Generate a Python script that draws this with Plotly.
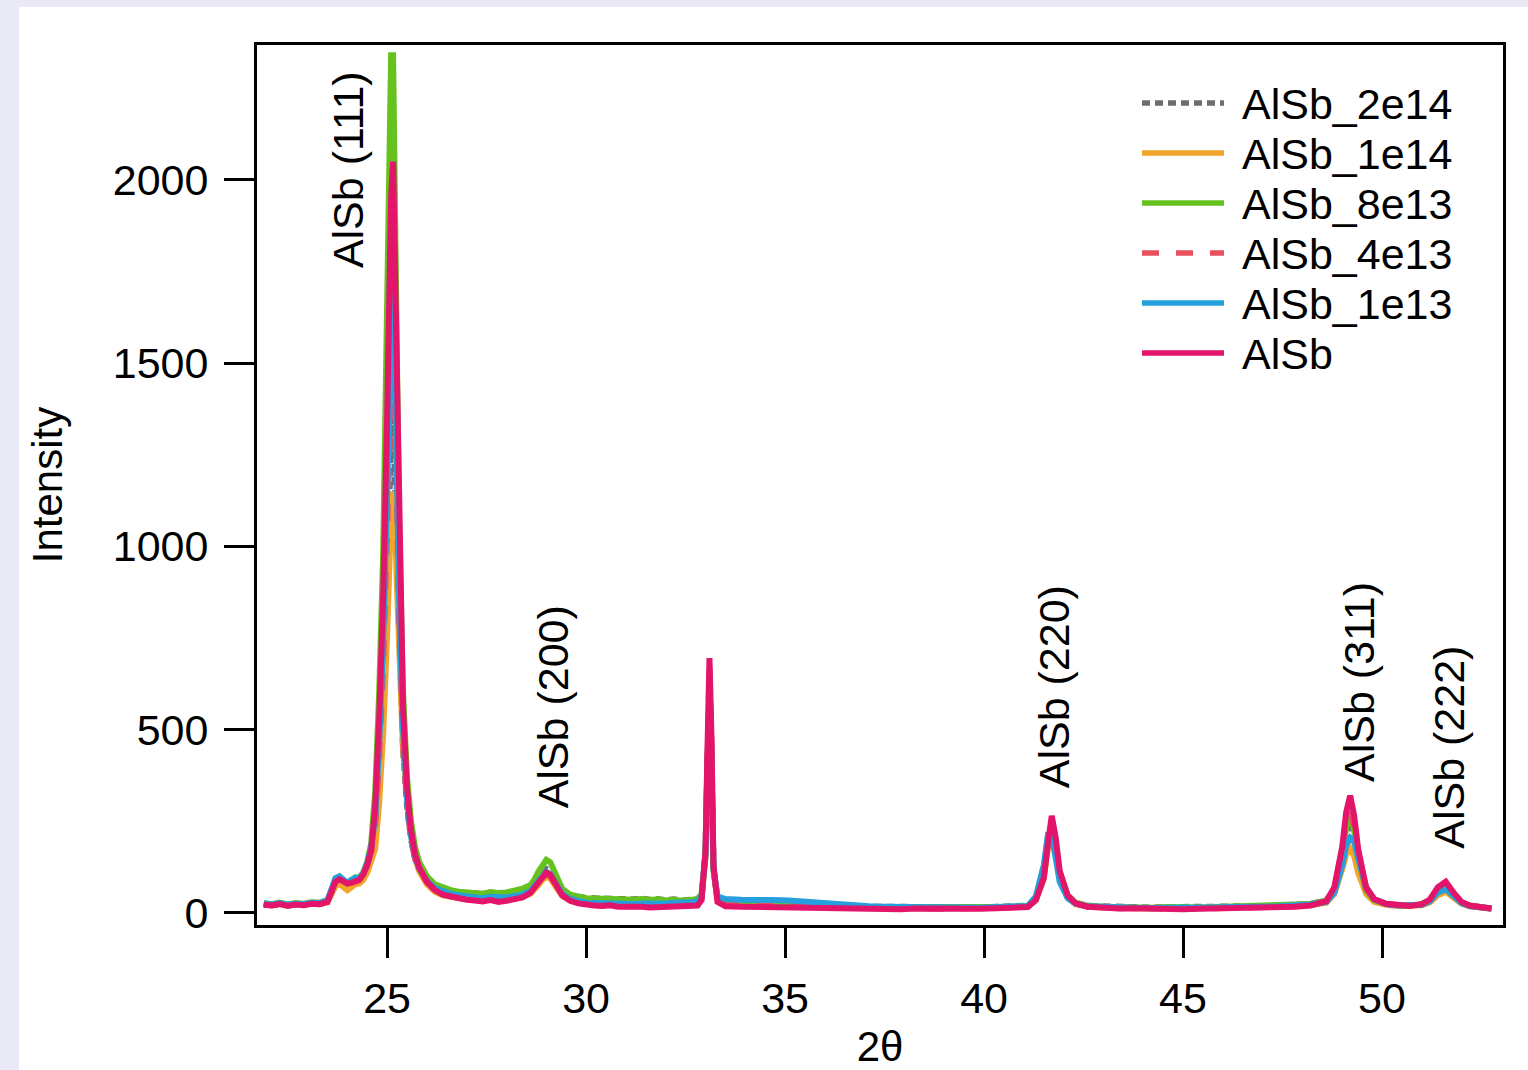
import plotly.graph_objects as go

# ---------------- data ----------------
two_theta = [21.9, 22.1, 22.3, 22.5, 22.7, 22.9, 23.1, 23.3, 23.5,
             23.6, 23.7, 23.8, 23.9, 24.0, 24.1, 24.2, 24.3, 24.4, 24.5, 24.6, 24.7, 24.8, 24.9,
             25.0, 25.05, 25.1, 25.15, 25.2, 25.25, 25.3, 25.4, 25.5, 25.6, 25.7, 25.8, 26.0, 26.2, 26.4, 26.6, 26.8,
             27.0, 27.2, 27.4, 27.6, 27.8, 28.0, 28.2, 28.4,
             28.6, 28.7, 28.8, 28.9, 29.0, 29.1, 29.2, 29.3, 29.4, 29.6, 29.8,
             30.0, 30.2, 30.4, 30.6, 30.8, 31.0, 31.2, 31.4, 31.6, 31.8, 32.0, 32.2, 32.4, 32.6, 32.8,
             32.9, 33.0, 33.05, 33.1, 33.15, 33.2, 33.3,
             33.5, 33.9, 34.3, 34.7, 35.1, 35.5, 35.9, 36.3, 36.7, 37.1, 37.5, 37.9, 38.3, 38.7, 39.1, 39.5, 39.9, 40.3, 40.7, 41.1,
             41.3, 41.5, 41.6, 41.7, 41.8, 41.9, 42.1, 42.3, 42.6,
             43.0, 43.4, 43.8, 44.2, 44.6, 45.0, 45.4, 45.8, 46.2, 46.6, 47.0, 47.4, 47.8, 48.2,
             48.6, 48.8, 49.0, 49.1, 49.2, 49.3, 49.4, 49.6, 49.8, 50.1,
             50.4, 50.7, 51.0, 51.2, 51.4, 51.6, 51.8, 52.0, 52.2, 52.45, 52.75]

alsb_2e14 = [25, 22, 26, 22, 25, 23, 27, 26, 32,
             54, 84, 90, 80, 76, 82, 88, 90, 100, 124, 160, 200, 360, 580,
             900, 1110, 1300, 1350, 1180, 930, 720, 440, 290, 200, 150, 120, 88, 70, 62, 58, 56,
             55, 54, 52, 56, 53, 55, 58, 62,
             70, 82, 98, 112, 120, 115, 98, 78, 60, 48, 43,
             41, 40, 39, 42, 38, 39, 37, 39, 36, 38, 35, 37, 34, 36, 38,
             50, 155, 400, 600, 420, 120, 42,
             32, 30, 28, 28, 25, 23, 21, 19, 18, 17, 17, 16, 16, 15, 15, 16, 15, 17, 18, 20,
             38, 100, 185, 220, 180, 102, 46, 27, 19,
             17, 15, 16, 15, 16, 15, 16, 17, 18, 17, 19, 20, 22, 25,
             33, 60, 150, 215, 235, 205, 140, 60, 34, 24,
             21, 20, 24, 32, 58, 68, 46, 27, 19, 15, 12]

alsb_1e14 = [23, 20, 24, 20, 23, 21, 25, 24, 29,
             48, 72, 80, 68, 62, 70, 78, 80, 90, 110, 145, 175, 300, 490,
             760, 950, 1090, 1150, 1060, 880, 700, 450, 320, 215, 150, 115, 78, 58, 48, 43, 40,
             38, 36, 34, 37, 33, 35, 39, 43,
             52, 62, 76, 90, 98, 94, 80, 62, 46, 34, 29,
             26, 25, 24, 26, 23, 24, 22, 24, 22, 24, 23, 25, 23, 25, 27,
             40, 150, 380, 560, 400, 115, 38,
             26, 24, 23, 24, 21, 19, 17, 15, 15, 14, 14, 13, 14, 13, 12, 14, 13, 15, 16, 18,
             34, 92, 175, 200, 165, 95, 42, 24, 17,
             15, 13, 14, 12, 14, 12, 13, 14, 15, 13, 16, 17, 19, 21,
             28, 52, 120, 160, 175, 155, 110, 52, 30, 22,
             19, 18, 21, 29, 48, 58, 40, 25, 18, 14, 11]

alsb_8e13 = [27, 24, 28, 23, 27, 25, 29, 28, 35,
             58, 92, 98, 86, 83, 90, 97, 96, 110, 140, 190, 330, 600, 980,
             1560, 2000, 2340, 2340, 1950, 1450, 1050, 600, 370, 250, 180, 140, 100, 78, 68, 62, 58,
             56, 55, 52, 57, 54, 56, 60, 66,
             76, 90, 112, 132, 145, 138, 115, 88, 66, 50, 43,
             40, 39, 38, 41, 37, 38, 36, 38, 35, 37, 34, 36, 33, 35, 37,
             50, 160, 410, 620, 430, 120, 42,
             30, 28, 26, 27, 24, 22, 20, 18, 17, 16, 16, 15, 15, 14, 14, 15, 14, 16, 17, 19,
             40, 105, 195, 240, 190, 108, 48, 28, 20,
             17, 15, 16, 14, 16, 14, 15, 16, 17, 16, 18, 19, 21, 24,
             34, 64, 160, 235, 260, 225, 150, 62, 35, 25,
             21, 20, 24, 33, 60, 72, 48, 28, 20, 15, 12]

alsb_4e13 = [24, 21, 25, 21, 24, 22, 26, 25, 31,
             55, 88, 95, 84, 80, 86, 92, 93, 106, 132, 170, 240, 420, 680,
             1080, 1330, 1540, 1600, 1380, 1080, 800, 470, 295, 200, 148, 118, 84, 62, 52, 46, 42,
             39, 37, 34, 38, 33, 36, 40, 44,
             56, 68, 84, 98, 106, 100, 86, 66, 49, 35, 29,
             25, 24, 22, 24, 21, 22, 20, 21, 19, 21, 20, 22, 20, 22, 24,
             38, 165, 430, 670, 460, 125, 35,
             24, 22, 21, 22, 19, 17, 16, 14, 14, 13, 13, 12, 13, 12, 11, 13, 12, 14, 15, 17,
             36, 100, 190, 235, 185, 105, 46, 26, 18,
             15, 13, 14, 12, 13, 11, 12, 13, 14, 12, 15, 16, 18, 21,
             32, 66, 165, 245, 275, 235, 160, 65, 36, 24,
             20, 19, 23, 34, 62, 75, 50, 28, 19, 15, 12]

alsb_1e13 = [26, 23, 27, 22, 25, 24, 28, 27, 34,
             60, 95, 100, 88, 82, 90, 96, 95, 108, 135, 180, 260, 460, 740,
             1170, 1450, 1680, 1750, 1500, 1150, 850, 500, 310, 210, 155, 122, 88, 68, 58, 52, 48,
             45, 43, 40, 44, 41, 42, 46, 50,
             60, 72, 88, 102, 112, 106, 90, 70, 52, 38, 32,
             28, 27, 26, 28, 25, 26, 24, 26, 25, 27, 26, 28, 27, 29, 31,
             45, 160, 400, 600, 420, 120, 45,
             38, 36, 37, 35, 34, 30, 26, 22, 20, 18, 17, 16, 15, 16, 14, 15, 14, 16, 17, 19,
             45, 130, 210, 205, 150, 85, 40, 25, 18,
             16, 14, 15, 13, 14, 13, 14, 15, 16, 15, 17, 18, 20, 23,
             30, 55, 130, 185, 205, 195, 150, 70, 38, 24,
             20, 19, 22, 32, 55, 65, 45, 27, 19, 15, 12]

alsb = [22, 20, 24, 19, 23, 21, 25, 24, 30,
        55, 85, 92, 85, 80, 82, 88, 90, 105, 130, 172, 290, 530, 860,
        1350, 1680, 1950, 2050, 1750, 1330, 980, 560, 340, 225, 160, 125, 85, 62, 50, 44, 40,
        36, 34, 31, 35, 30, 33, 38, 42,
        55, 68, 85, 100, 110, 104, 88, 66, 48, 33, 26,
        22, 20, 19, 21, 17, 18, 16, 17, 15, 16, 15, 17, 15, 18, 20,
        35, 170, 450, 695, 480, 130, 30,
        18, 17, 16, 18, 15, 14, 14, 12, 13, 11, 12, 10, 12, 11, 10, 12, 11, 13, 14, 16,
        35, 95, 185, 265, 205, 115, 48, 26, 17,
        14, 12, 13, 11, 12, 10, 11, 12, 13, 11, 14, 15, 17, 20,
        32, 70, 180, 275, 320, 265, 175, 70, 38, 25,
        20, 19, 24, 36, 70, 85, 55, 30, 20, 15, 12]

series_names = ["AlSb_2e14", "AlSb_1e14", "AlSb_8e13", "AlSb_4e13", "AlSb_1e13", "AlSb"]
series_values = [alsb_2e14, alsb_1e14, alsb_8e13, alsb_4e13, alsb_1e13, alsb]

peak_labels = ["AlSb (111)", "AlSb (200)", "AlSb (220)", "AlSb (311)", "AlSb (222)"]
x_ticks = [25, 30, 35, 40, 45, 50]
y_ticks = [0, 500, 1000, 1500, 2000]

# ---------------- styles ----------------
colors = ["#6e6e6e", "#f2a52a", "#66c21f", "#e8505e", "#25a0dc", "#e2156b"]
dashes = ["8px,5px", "solid", "solid", "17px,17px", "solid", "solid"]
label_pos = [(24.02, 2027), (29.17, 561), (41.76, 616), (49.42, 630), (51.68, 453)]
FONT = "Liberation Sans, Arial, sans-serif"
BG = "#e9eaf6"
FS = 43

L, R, T, B = 257, 1503, 45, 925
W, H = 1528, 1070
PW, PH = R - L, B - T


def px(xp):
    return (xp - L) / PW


def py(yp):
    return (B - yp) / PH


fig = go.Figure()
for name, vals, c, d in zip(series_names, series_values, colors, dashes):
    fig.add_trace(go.Scatter(x=two_theta, y=vals, mode="lines", name=name,
                             line=dict(color=c, width=6, dash=d),
                             showlegend=False))

# peak labels
for text, (lx, ly) in zip(peak_labels, label_pos):
    fig.add_annotation(x=lx, y=ly, xref="x", yref="y", text=text, showarrow=False,
                       textangle=-90, font=dict(size=FS, color="black", family=FONT))

shapes = [dict(type="rect", xref="paper", yref="paper", x0=px(19), x1=px(1560),
               y0=py(1100), y1=py(7), fillcolor="white", line=dict(width=0), layer="below")]

# custom legend
rows = [103, 153, 203, 253, 303, 353]
for name, c, d, yr in zip(series_names, colors, dashes, rows):
    shapes.append(dict(type="line", xref="paper", yref="paper", x0=px(1142), x1=px(1224),
                       y0=py(yr), y1=py(yr), line=dict(color=c, width=5.5, dash=d)))
    fig.add_annotation(x=px(1240), y=py(yr + 1), xref="paper", yref="paper", text=name,
                       showarrow=False, xanchor="left", yanchor="middle",
                       font=dict(size=FS, color="black", family=FONT))

fig.update_layout(
    width=W, height=H,
    margin=dict(l=L, r=W - R, t=T, b=H - B, autoexpand=False),
    paper_bgcolor=BG, plot_bgcolor="white",
    font=dict(family=FONT, size=FS, color="black"),
    shapes=shapes, showlegend=False,
)
fig.update_xaxes(range=[21.73, 53.04], tickvals=x_ticks, ticks="outside", ticklen=30,
                 tickwidth=3, tickcolor="black", showline=True, linewidth=3, linecolor="black",
                 mirror=True, showgrid=False, zeroline=False, ticklabelstandoff=3,
                 tickfont=dict(size=FS, family=FONT),
                 title=dict(text="2θ", font=dict(size=42, family=FONT), standoff=21))
fig.update_yaxes(range=[-33, 2368], tickvals=y_ticks, ticks="outside", ticklen=30,
                 tickwidth=3, tickcolor="black", showline=True, linewidth=3, linecolor="black",
                 mirror=True, showgrid=False, zeroline=False, ticklabelstandoff=7,
                 tickfont=dict(size=FS, family=FONT),
                 title=dict(text="Intensity", font=dict(size=42, family=FONT), standoff=38))

fig.write_html("out.html", config={"displayModeBar": False},
               post_script="document.body.style.margin='0';"
                           "document.body.style.overflow='hidden';"
                           "document.body.style.background='" + BG + "';")
